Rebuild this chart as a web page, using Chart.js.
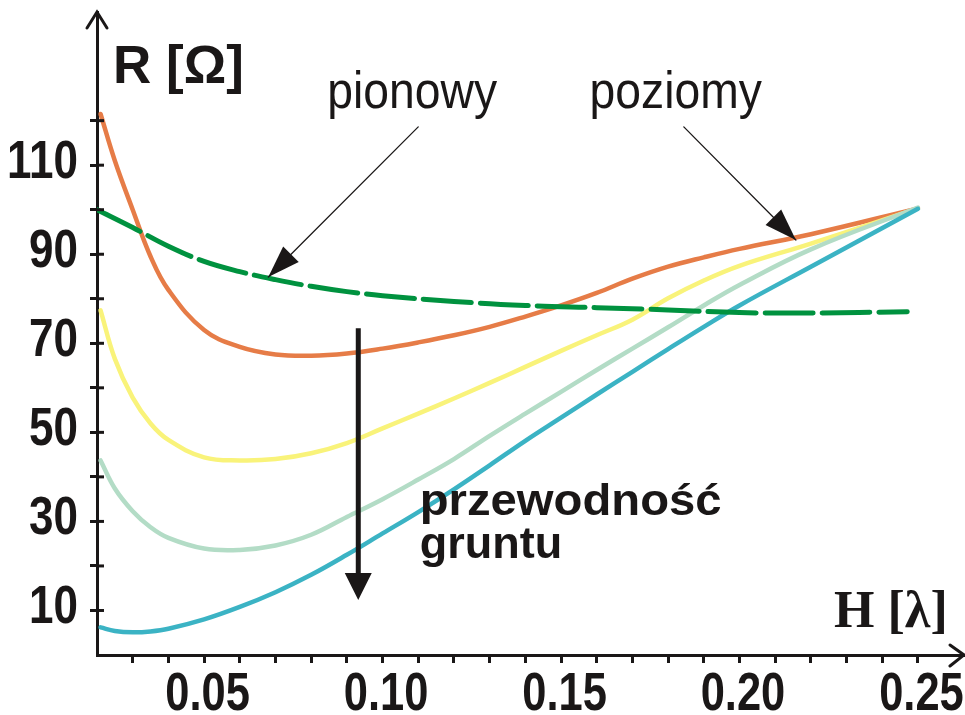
<!DOCTYPE html>
<html>
<head>
<meta charset="utf-8">
<script src="https://cdn.jsdelivr.net/npm/chart.js@4.4.0/dist/chart.umd.min.js"></script>
<style>
    html, body { margin: 0; padding: 0; background: #fff; }
    #wrap { width: 965px; height: 715px; }
</style>
</head>
<body>
<div id="wrap"><canvas id="myChart" width="965" height="715"></canvas></div>
<script>
// H [lambda] points for the four "poziomy" curves (ground conductivity family)
const hValues = [0.021, 0.025, 0.03, 0.035, 0.04, 0.05, 0.06, 0.07, 0.08, 0.09, 0.10, 0.11, 0.12, 0.13, 0.14, 0.15, 0.16, 0.17, 0.18, 0.19, 0.20, 0.22, 0.25];
const rOrange = [121.5, 111, 100, 89.5, 82, 73, 69.2, 67.5, 67.2, 67.7, 68.8, 70.2, 71.8, 73.7, 76, 78.5, 81.3, 84.5, 87.2, 89.3, 91.2, 94.5, 100.3];
const rYellow = [77.4, 66.5, 57.8, 52, 48.3, 44.4, 43.7, 44, 45.3, 47.6, 50.9, 54.2, 57.6, 61.1, 64.7, 68.3, 71.8, 75.3, 80.1, 84.1, 87.4, 92.4, 100.3];
const rMint = [43.7, 37.4, 32.3, 28.7, 26.3, 23.9, 23.6, 24.6, 27, 31, 35, 39.4, 44, 49.2, 54.2, 59.1, 64, 68.8, 73.6, 78.5, 83.1, 91.1, 100.5];
const rTeal = [6.2, 5.4, 5.1, 5.3, 5.9, 8, 10.8, 14.1, 18, 22.5, 27.3, 32.1, 37.2, 42.6, 48.1, 53.3, 58.5, 63.6, 68.7, 73.7, 78.5, 87.2, 100.2];

// vertical dipole ("pionowy"), dashed
const hPionowy = [0.02, 0.03, 0.04, 0.05, 0.06, 0.07, 0.08, 0.09, 0.10, 0.12, 0.14, 0.16, 0.18, 0.20, 0.22, 0.247];
const rPionowy = [100, 96, 91.8, 88.4, 86.1, 84.3, 82.8, 81.6, 80.7, 79.4, 78.5, 78, 77.5, 76.9, 76.8, 77.1];

// tick labels
const yLabels = [10, 30, 50, 70, 90, 110];
const xLabels = ['0.05', '0.10', '0.15', '0.20', '0.25'];

const ink = '#1a1717';
const tickFont = "bold 53px 'Liberation Sans', Arial, sans-serif";

function pts(xs, ys) {
    return xs.map((x, i) => ({ x: x, y: ys[i] }));
}

function yVisible(v) {
    const k = Math.round(v / 10);
    return Math.abs(v - k * 10) < 1e-6 && k >= 1 && k <= 12;
}
function xVisible(v) {
    const k = Math.round(v * 100);
    return Math.abs(v * 100 - k) < 1e-6 && k >= 3 && k <= 25;
}

function arrowHead(ctx, x1, y1, x2, y2, len, half) {
    const a = Math.atan2(y2 - y1, x2 - x1);
    const bx = x2 - len * Math.cos(a), by = y2 - len * Math.sin(a);
    ctx.beginPath();
    ctx.moveTo(x2, y2);
    ctx.lineTo(bx + half * Math.sin(a), by - half * Math.cos(a));
    ctx.lineTo(bx - half * Math.sin(a), by + half * Math.cos(a));
    ctx.closePath();
    ctx.fill();
}

// horizontally scaled text (the original uses narrow faces)
function narrowText(ctx, txt, x, y, align, sx) {
    ctx.save();
    ctx.translate(x, y);
    ctx.scale(sx, 1);
    ctx.textAlign = align;
    ctx.fillText(txt, 0, 0);
    ctx.restore();
}

// tick labels, axis arrows and annotations (positions in data units H, R)
const decor = {
    id: 'decor',
    afterDatasetsDraw(chart) {
        const { ctx, chartArea: a, scales: { x, y } } = chart;
        const px = v => x.getPixelForValue(v);
        const py = v => y.getPixelForValue(v);
        ctx.save();
        ctx.strokeStyle = ink;
        ctx.fillStyle = ink;

        // inner half of the y ticks
        ctx.lineWidth = 3;
        y.ticks.forEach(t => {
            if (!yVisible(t.value)) return;
            const yy = py(t.value);
            ctx.beginPath();
            ctx.moveTo(a.left, yy);
            ctx.lineTo(a.left + 7, yy);
            ctx.stroke();
        });

        // tick labels
        ctx.font = tickFont;
        ctx.textBaseline = 'alphabetic';
        y.ticks.forEach(t => {
            if (t.label) narrowText(ctx, t.label, a.left - 19, py(t.value) + 12.5, 'right', 0.83);
        });
        x.ticks.forEach(t => {
            if (t.label) narrowText(ctx, t.label, px(t.value) + 3.5, a.bottom + 55, 'center', 0.82);
        });

        // axis arrow heads
        ctx.lineWidth = 3;
        ctx.lineCap = 'round';
        ctx.beginPath();
        ctx.moveTo(a.left - 10, a.top + 16);
        ctx.lineTo(a.left, a.top);
        ctx.lineTo(a.left + 10, a.top + 16);
        ctx.stroke();
        ctx.beginPath();
        ctx.moveTo(a.right - 14, a.bottom - 10);
        ctx.lineTo(a.right, a.bottom);
        ctx.lineTo(a.right - 14, a.bottom + 11);
        ctx.stroke();

        // thin pointer arrows
        ctx.lineWidth = 1.3;
        [[0.110, 118.6, 0.068, 84.9], [0.1844, 118.6, 0.2158, 93.2]].forEach(p => {
            const x1 = px(p[0]), y1 = py(p[1]), x2 = px(p[2]), y2 = py(p[3]);
            ctx.beginPath();
            ctx.moveTo(x1, y1);
            ctx.lineTo(x2, y2);
            ctx.stroke();
            arrowHead(ctx, x1, y1, x2, y2, 32, 11);
        });

        // thick downward arrow
        const vx = px(0.0932), vTop = py(73.4), vTip = py(12.35);
        ctx.lineWidth = 5;
        ctx.lineCap = 'butt';
        ctx.beginPath();
        ctx.moveTo(vx, vTop);
        ctx.lineTo(vx, vTip - 20);
        ctx.stroke();
        arrowHead(ctx, vx, vTop, vx, vTip, 27, 13.5);

        // texts
        ctx.textAlign = 'left';
        ctx.font = "bold 53px 'Liberation Sans', Arial, sans-serif";
        ctx.fillText('R [Ω]', px(0.0245), py(128.5));
        ctx.font = "52px 'Liberation Sans', Arial, sans-serif";
        narrowText(ctx, 'pionowy', px(0.0845), py(122.8), 'left', 0.89);
        narrowText(ctx, 'poziomy', px(0.158), py(122.8), 'left', 0.89);
        ctx.font = "bold 45px 'Liberation Sans', Arial, sans-serif";
        narrowText(ctx, 'przewodność', px(0.1104), py(31.4), 'left', 1.05);
        ctx.fillText('gruntu', px(0.1104), py(21.8));
        ctx.font = "bold 52px 'Liberation Serif', 'Times New Roman', serif";
        ctx.fillText('H [λ]', px(0.2265), py(6.3));
        ctx.restore();
    }
};

const ctx = document.getElementById('myChart').getContext('2d');
const myChart = new Chart(ctx, {
    type: 'line',
    data: {
        datasets: [{
            label: 'pionowy',
            data: pts(hPionowy, rPionowy),
            borderColor: '#00923f',
            borderWidth: 5,
            borderDash: [48, 9],
        }, {
            label: 'teal',
            data: pts(hValues, rTeal),
            borderColor: '#3bb3c4',
            borderWidth: 4.5,
        }, {
            label: 'mint',
            data: pts(hValues, rMint),
            borderColor: '#b3dcc6',
            borderWidth: 4.5,
        }, {
            label: 'yellow',
            data: pts(hValues, rYellow),
            borderColor: '#f9f37a',
            borderWidth: 4.5,
        }, {
            label: 'orange',
            data: pts(hValues, rOrange),
            borderColor: '#e67c47',
            borderWidth: 4.5,
        }],
    },
    options: {
        responsive: false,
        animation: false,
        devicePixelRatio: 1,
        layout: { autoPadding: false, padding: { top: 12, right: 1, left: 0, bottom: 0 } },
        elements: {
            point: { radius: 0 },
            line: { tension: 0.4, fill: false, borderCapStyle: 'round', borderJoinStyle: 'round' },
        },
        plugins: {
            legend: { display: false },
            tooltip: { enabled: false },
        },
        scales: {
            x: {
                type: 'linear',
                min: 0.02,
                max: 0.2629,
                afterFit: s => { s.height = 60; },
                border: { color: ink, width: 3 },
                grid: {
                    drawOnChartArea: false,
                    tickLength: 8,
                    tickWidth: 3,
                    tickColor: c => xVisible(c.tick.value) ? ink : 'rgba(0,0,0,0)',
                },
                ticks: {
                    display: false,
                    stepSize: 0.01,
                    autoSkip: false,
                    maxRotation: 0,
                    minRotation: 0,
                    callback: v => {
                        const s = v.toFixed(2);
                        return xVisible(v) && xLabels.includes(s) ? s : '';
                    },
                },
            },
            y: {
                type: 'linear',
                min: 0,
                max: 144.4,
                afterFit: s => { s.width = 97; },
                border: { color: ink, width: 3 },
                grid: {
                    drawOnChartArea: false,
                    tickLength: 7,
                    tickWidth: 3,
                    tickColor: c => yVisible(c.tick.value) ? ink : 'rgba(0,0,0,0)',
                },
                ticks: {
                    display: false,
                    stepSize: 10,
                    autoSkip: false,
                    callback: v => yLabels.includes(v) ? String(v) : '',
                },
            },
        },
    },
    plugins: [decor],
});
</script>
</body>
</html>
